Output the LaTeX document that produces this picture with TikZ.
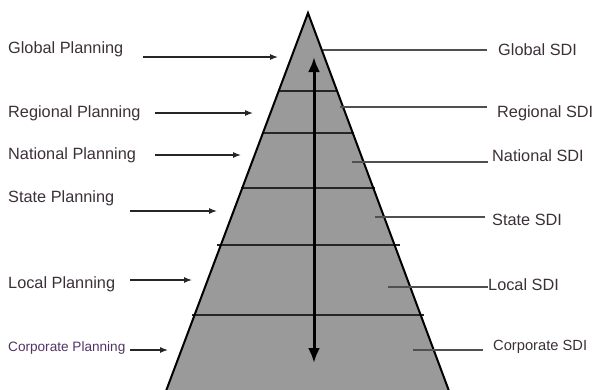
\documentclass[tikz,border=0pt]{standalone}
\usepackage{fontspec}
\setmainfont{Liberation Sans}
\usetikzlibrary{arrows.meta}
\definecolor{txt}{RGB}{60,48,56}
\definecolor{purp}{RGB}{82,52,100}
\definecolor{pyr}{RGB}{154,154,154}
\definecolor{lead}{RGB}{80,80,80}
\tikzset{
  lbl/.style={font=\fontsize{16.3}{18}\selectfont, text=txt, inner sep=0pt, anchor=west},
  smalllbl/.style={font=\fontsize{13.6}{15}\selectfont, text=purp, inner sep=0pt, anchor=west},
  pa/.style={-{Latex[length=8pt,width=6pt]}, line width=1.1pt, draw=black!85},
  leader/.style={draw=lead, line width=1.3pt},
  tier/.style={draw=black!85, line width=1.3pt},
  bigarrow/.style={{Latex[length=15pt,width=12pt]}-{Latex[length=15pt,width=12pt]}, line width=3pt, draw=black}
}
\begin{document}
\begin{tikzpicture}[x=1pt,y=-1pt]
\useasboundingbox (0,0) rectangle (594,389);
\begin{scope}
\clip (0,0) rectangle (594,389);
\coordinate (apex) at (308,13);
\coordinate (bl) at (163,399);
\coordinate (br) at (452,399);
\fill[pyr] (apex) -- (bl) -- (br) -- cycle;
% tiers
\draw[tier] (278.5,91) -- (337.5,91);
\draw[tier] (262,133) -- (354,133);
\draw[tier] (241,188) -- (375,188);
\draw[tier] (217,245) -- (400,245);
\draw[tier] (192,315) -- (424,315);
\draw[black, line width=2pt, line join=miter] (bl) -- (apex) -- (br);
\end{scope}
% vertical arrow
\coordinate (vt) at (314,57);
\coordinate (vb) at (314,363);
\draw[bigarrow] (vt) -- (vb);
% left labels
\node[lbl] (gp) at (8,49) {Global Planning};
\node[lbl] (rp) at (8,113) {Regional Planning};
\node[lbl] (np) at (8,155) {National Planning};
\node[lbl] (sp) at (8,198) {State Planning};
\node[lbl] (lp) at (8,284) {Local Planning};
\node[smalllbl] (cp) at (8,348) {Corporate Planning};
\coordinate (gps) at (143,57);  \coordinate (gpe) at (278,57);
\coordinate (rps) at (155,113); \coordinate (rpe) at (253,113);
\coordinate (nps) at (155,155); \coordinate (npe) at (241,155);
\coordinate (sps) at (130,211); \coordinate (spe) at (217,211);
\coordinate (lps) at (130,280); \coordinate (lpe) at (192,280);
\coordinate (cps) at (130,350); \coordinate (cpe) at (168,350);
\draw[pa] (gps) -- (gpe);
\draw[pa] (rps) -- (rpe);
\draw[pa] (nps) -- (npe);
\draw[pa] (sps) -- (spe);
\draw[pa] (lps) -- (lpe);
\draw[pa] (cps) -- (cpe);
% right labels
\node[lbl] (gs) at (498,50) {Global SDI};
\node[lbl] (rs) at (497,113) {Regional SDI};
\node[lbl] (ns) at (492,156) {National SDI};
\node[lbl] (ss) at (492,220) {State SDI};
\node[lbl] (ls) at (488,285) {Local SDI};
\node[lbl, font=\fontsize{14.7}{16}\selectfont] (cs) at (493,347) {Corporate SDI};
\coordinate (gsl) at (323,50);
\coordinate (rsl) at (340,107);
\coordinate (nsl) at (352,162);
\coordinate (ssl) at (375,217);
\coordinate (lsl) at (388,287);
\coordinate (csl) at (413,350);
\draw[leader] (gsl) -- (487,50);
\draw[leader] (rsl) -- (487,107);
\draw[leader] (nsl) -- (488,162);
\draw[leader] (ssl) -- (485,217);
\draw[leader] (lsl) -- (ls.west |- lsl);
\draw[leader] (csl) -- (483,350);
\end{tikzpicture}
\end{document}
